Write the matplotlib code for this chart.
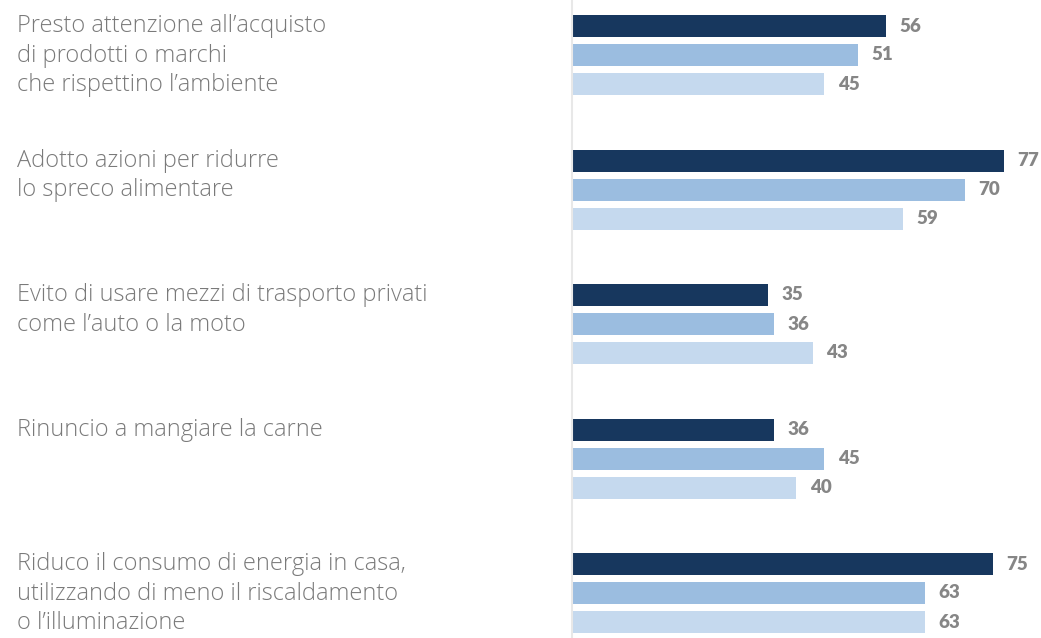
import matplotlib
matplotlib.use("Agg")
import matplotlib.pyplot as plt
import numpy as np

categories = [
    "Presto attenzione all\u2019acquisto\ndi prodotti o marchi\nche rispettino l\u2019ambiente",
    "Adotto azioni per ridurre\nlo spreco alimentare",
    "Evito di usare mezzi di trasporto privati\ncome l\u2019auto o la moto",
    "Rinuncio a mangiare la carne",
    "Riduco il consumo di energia in casa,\nutilizzando di meno il riscaldamento\no l\u2019illuminazione",
]
series_a = [56, 77, 35, 36, 75]
series_b = [51, 70, 36, 45, 63]
series_c = [45, 59, 43, 40, 63]

colors = ["#17375e", "#9bbde0", "#c5d9ee"]
label_color = "#7a7a7a"
value_color = "#868686"

W, H = 1041, 638
fig = plt.figure(figsize=(W / 100, H / 100), dpi=100)
ax_left_px = 572
ax_width_px = 466
ax = fig.add_axes([ax_left_px / W, 0, ax_width_px / W, 1])

group_px = 134.5
pitch = 29 / group_px
bar_h = 22 / group_px
top = -55 / group_px
ax.set_ylim(top + H / group_px, top)
ax.set_xlim(0, ax_width_px / 5.61)

y = np.arange(len(categories))
for k, (vals, col) in enumerate(zip([series_a, series_b, series_c], colors)):
    pos = y + (k - 1) * pitch
    ax.barh(pos, vals, height=bar_h, color=col, edgecolor="none")
    for p, v in zip(pos, vals):
        ax.annotate(f"{v}", xy=(v, p), xytext=(9.5, 0), textcoords="offset points",
                    ha="left", va="center", fontsize=13.5, fontweight="heavy",
                    color=value_color, family=["Lato", "DejaVu Sans"])

for side in ["top", "right", "bottom"]:
    ax.spines[side].set_visible(False)
ax.spines["left"].set_color("#e8e8e8")
ax.spines["left"].set_linewidth(1.5)
ax.set_xticks([])
ax.set_yticks([])

# category labels, top-aligned with the first bar of each group
for i, cat in enumerate(categories):
    y_top = i - pitch - bar_h / 2
    ax.annotate(cat, xy=(0, y_top), xycoords=("figure fraction", "data"),
                xytext=(17 * 0.72, 0.5), textcoords="offset points",
                ha="left", va="top", fontsize=17, fontweight="light",
                color=label_color, linespacing=1.29,
                family=["Open Sans", "DejaVu Sans"])

fig.savefig("out.png", dpi=100)
